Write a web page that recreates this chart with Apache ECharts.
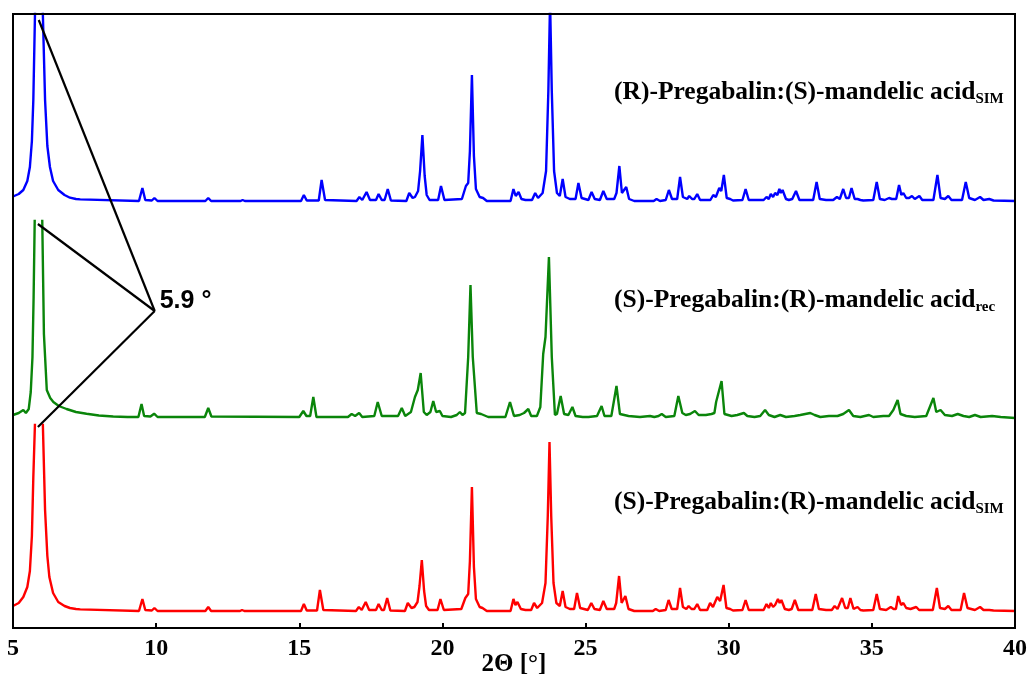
<!DOCTYPE html>
<html><head><meta charset="utf-8">
<script src="https://cdn.jsdelivr.net/npm/echarts@6/dist/echarts.min.js"></script>
<style>html,body{margin:0;padding:0;background:#fff}#c{width:1030px;height:686px}</style>
</head><body><div id="c"></div>
<script>
// 2Theta (deg) vs intensity above each pattern's own baseline (arbitrary units)
const blueData = [[5.0,4.5],[5.2,7],[5.36,11],[5.5,20],[5.59,34],[5.66,60],[5.71,101],[5.77,190],[5.9,400],[6.04,190],[6.12,101],[6.2,55],[6.29,34],[6.4,20],[6.58,11],[6.8,6],[6.99,3.3],[7.2,2],[7.35,1.6],[7.38,0],
[9.4,0],[9.52,13],[9.62,1],[9.85,0.5],[9.94,3],[10.05,0],[11.72,0],[11.82,3],[11.92,0],[12.95,0],[13.02,1],[13.1,0],
[15.06,0],[15.16,6],[15.26,0.5],[15.68,0.5],[15.78,21],[15.9,1],[17.0,0],[17.1,4],[17.2,1],[17.35,9],[17.47,1],[17.68,1],[17.77,7],[17.88,1],[17.98,1],[18.09,12],[18.2,0.5],
[18.74,0],[18.84,8],[18.96,3],[19.04,4],[19.15,10],[19.22,30],[19.3,66],[19.38,25],[19.45,6],[19.55,1],[19.85,1],[19.95,15],[20.07,1],
[20.68,2],[20.82,15],[20.9,18],[20.96,50],[21.03,126],[21.1,45],[21.17,12],[21.3,4],[21.42,3],[21.55,0],
[22.38,0],[22.48,12],[22.56,5],[22.66,9],[22.76,2],[22.9,1],[23.13,1],[23.24,8],[23.34,3],[23.5,8],[23.62,30],[23.7,110],[23.76,200],[23.82,110],[23.9,30],[24.0,8],[24.1,5],[24.2,22],[24.3,4],[24.45,2],[24.65,2],[24.75,18],[24.86,3],[25.1,1],[25.21,9],[25.32,2],[25.5,1],[25.62,10],[25.74,2],[26.0,2],[26.08,8],[26.18,35],[26.27,8],[26.33,8],[26.42,14],[26.52,2],[26.7,0],
[27.38,0],[27.48,2],[27.6,0],[27.8,1],[27.91,11],[28.02,2],[28.2,2],[28.3,24],[28.4,4],[28.55,2],[28.62,5],[28.72,2],[28.8,2],[28.9,7],[29.0,1],[29.36,1],[29.46,6],[29.55,4],[29.67,13],[29.74,10],[29.83,26],[29.93,3],[30.05,2],[30.15,0.5],[30.48,1],[30.59,12],[30.7,1],
[31.22,1],[31.32,4],[31.4,2],[31.47,7],[31.55,4],[31.62,8],[31.7,6],[31.77,12],[31.82,8],[31.88,11],[32.0,2],[32.1,1],[32.22,2],[32.35,10],[32.47,1],[32.95,1],[33.07,19],[33.18,2],[33.4,1],[33.65,1],[33.78,4],[33.88,2],[34.0,12],[34.1,3],[34.2,3],[34.29,13],[34.4,2],[34.5,2],[34.6,1],[34.7,0.5],[35.05,1],[35.17,19],[35.28,2],[35.45,1],[35.6,3],[35.7,2],[35.85,2],[35.95,16],[36.03,6],[36.1,8],[36.2,3],[36.3,3],[36.4,5],[36.5,2],[36.66,5],[36.76,1],[37.15,1],[37.29,26],[37.4,3],[37.55,2],[37.67,5],[37.78,1],[38.15,1],[38.28,19],[38.4,3],[38.6,1],[38.78,4],[38.9,1],[39.1,2],[39.25,0.5],[40,0]];

const greenData = [[5.0,2],[5.2,4],[5.36,7],[5.45,4],[5.55,8],[5.62,25],[5.68,60],[5.72,120],[5.76,200],[5.89,400],[6.02,200],[6.08,83],[6.18,27],[6.3,19],[6.41,15],[6.6,11],[6.87,8],[7.2,5],[7.57,3.3],[8.0,1.5],[8.5,0.5],[9.0,0],[9.38,0],[9.49,13],[9.58,1],[9.8,0.5],[9.93,3.3],[10.05,0],[11.7,0],[11.82,9],[11.93,0.5],
[15.0,0],[15.14,6],[15.25,1],[15.38,1],[15.49,20],[15.6,0],[16.7,0],[16.83,3],[16.95,1],[17.09,4],[17.2,0],[17.62,1],[17.74,15],[17.88,1],[18.45,1],[18.58,9],[18.7,1],[18.9,5],[19.04,20],[19.14,27],[19.24,44],[19.35,5],[19.45,2],[19.58,5],[19.68,16],[19.78,5],[19.84,6],[19.91,6],[20.0,1],[20.3,0],[20.5,2],[20.61,5],[20.7,2],[20.79,4],[20.9,60],[20.98,132],[21.06,60],[21.2,4],[21.35,3],[21.6,0],
[22.2,0],[22.36,15],[22.5,1],[22.7,2],[22.85,4],[23.0,8],[23.1,1],[23.3,1],[23.42,10],[23.52,63],[23.6,80],[23.72,160],[23.82,60],[23.93,2],[24.0,3],[24.13,21],[24.25,3],[24.4,2],[24.54,10],[24.65,1],[24.9,0],[25.1,0],[25.4,1],[25.56,11],[25.66,1],[25.9,1],[26.08,31],[26.2,3],[26.5,1],[26.9,0],
[27.25,1],[27.4,0],[27.55,1],[27.66,3],[27.8,0],[28.1,1],[28.24,21],[28.38,4],[28.5,2],[28.65,3],[28.82,6],[28.95,2],[29.2,2],[29.4,3],[29.5,4],[29.56,15],[29.75,36],[29.85,3],[30.1,1],[30.3,2],[30.53,4],[30.65,1],[30.9,0],[31.1,1],[31.27,7],[31.4,2],[31.6,0],[31.8,2],[32.0,0],[32.3,1],[32.5,2],[32.85,4],[33.0,2],[33.2,0],[33.5,1],[33.8,1],[34.0,3],[34.2,7],[34.35,1],[34.6,0],[34.9,2],[35.05,0],[35.4,1],[35.6,1],[35.75,7],[35.9,17],[36.0,3],[36.2,1],[36.5,0],[36.9,1],[37.15,19],[37.25,5],[37.4,7],[37.55,2],[37.8,1],[38.0,3],[38.2,1],[38.4,0],[38.6,2],[38.8,0],[39.2,1],[39.5,0],[40,-1]];

const redData = [[5.0,5],[5.2,8],[5.36,14],[5.5,24],[5.59,40],[5.66,75],[5.71,134],[5.77,190],[5.9,400],[6.04,190],[6.12,101],[6.2,55],[6.27,34],[6.4,18],[6.58,9],[6.8,5],[6.99,3],[7.2,2],[7.35,1.6],[7.38,0],
[9.4,0],[9.52,12],[9.62,1],[9.85,0.5],[9.94,3],[10.05,0],[11.72,0],[11.82,4],[11.92,0],[12.93,0],[13.0,1],[13.08,0],
[15.06,0],[15.16,7],[15.26,0.5],[15.62,0.5],[15.72,21],[15.84,1],[16.98,0],[17.08,4],[17.18,1],[17.32,9],[17.44,1],[17.68,1],[17.77,7],[17.88,1],[17.96,1],[18.07,13],[18.18,0.5],
[18.69,0],[18.79,8],[18.92,3],[19.02,4],[19.13,9],[19.2,25],[19.28,51],[19.36,20],[19.43,5],[19.53,1],[19.83,1],[19.93,12],[20.05,1],
[20.66,2],[20.8,13],[20.9,17],[20.96,50],[21.03,124],[21.1,44],[21.17,12],[21.3,4],[21.4,3],[21.55,0],
[22.38,0],[22.48,12],[22.55,6],[22.62,9],[22.74,2],[22.9,1],[23.1,1],[23.2,8],[23.31,3],[23.48,8],[23.6,28],[23.68,95],[23.74,169],[23.8,95],[23.88,28],[23.98,8],[24.1,5],[24.2,20],[24.3,4],[24.45,2],[24.6,2],[24.7,18],[24.81,3],[25.08,1],[25.2,8],[25.31,2],[25.5,1],[25.62,10],[25.74,2],[26.0,2],[26.07,8],[26.17,35],[26.26,8],[26.31,8],[26.39,15],[26.5,2],[26.7,0],
[27.35,0],[27.45,2],[27.57,0],[27.8,1],[27.9,11],[28.01,2],[28.2,2],[28.3,23],[28.4,4],[28.52,2],[28.6,5],[28.7,2],[28.8,2],[28.9,7],[29.0,1],[29.25,1],[29.35,8],[29.45,4],[29.6,14],[29.7,10],[29.82,26],[29.92,3],[30.05,2],[30.15,0.5],[30.48,1],[30.59,11],[30.7,1],
[31.22,1],[31.32,7],[31.4,3],[31.47,8],[31.55,4],[31.62,6],[31.72,12],[31.78,8],[31.84,11],[31.96,2],[32.1,1],[32.2,2],[32.31,11],[32.43,1],[32.92,1],[33.04,17],[33.15,2],[33.4,1],[33.6,1],[33.7,5],[33.8,2],[33.96,13],[34.07,3],[34.16,3],[34.25,13],[34.36,2],[34.5,4],[34.6,1],[34.7,0.5],[35.05,1],[35.17,17],[35.28,2],[35.5,1],[35.66,4],[35.76,2],[35.84,2],[35.92,15],[36.02,6],[36.1,8],[36.2,3],[36.35,2],[36.55,4],[36.65,1],[37.13,1],[37.27,23],[37.38,3],[37.55,2],[37.67,5],[37.78,1],[38.1,1],[38.22,18],[38.34,3],[38.6,1],[38.78,4],[38.9,1],[39.1,1],[39.25,0.5],[40,0]];

const seriesData = [blueData, greenData, redData];
const seriesColors = ['#0000ff', '#0a850a', '#ff0000'];
const labelMain = ['(R)-Pregabalin:(S)-mandelic acid', '(S)-Pregabalin:(R)-mandelic acid', '(S)-Pregabalin:(R)-mandelic acid'];
const labelSub = ['SIM', 'rec', 'SIM'];
const xTickLabels = ['5', '10', '15', '20', '25', '30', '35', '40'];
const xName = '2\u0398 [\u00b0]';
const peakLabel = '5.9 \u00b0';
// annotation: vertex (green panel coords) and the tops of the three 5.9 deg peaks
const annoVertex = [9.95, 106];
const annoTargets = [[5.9, 181], [5.87, 193], [5.87, 184]];
const panelRanges = [[-20, 187], [-8, 196], [-17, 186]];

const L = 13, R = 15;
const panels = [[14, 221], [221, 425], [425, 628]];
const chart = echarts.init(document.getElementById('c'));

const grids = [{left: L, right: R, top: 14, bottom: 58, outerBoundsMode: 'none', containLabel: false,
  show: true, borderColor: '#000', borderWidth: 2, backgroundColor: 'transparent', z: 5}];
panels.forEach(p => grids.push({left: L, right: R, top: p[0], height: p[1] - p[0], outerBoundsMode: 'none', containLabel: false}));

const xAxes = [
  {gridIndex: 0, type: 'value', min: 5, max: 40, interval: 5, position: 'bottom',
   axisLine: {show: true, lineStyle: {color: '#000', width: 2}},
   axisTick: {show: true, inside: true, length: 5, lineStyle: {color: '#000', width: 2}},
   axisLabel: {color: '#000', fontFamily: 'Liberation Serif', fontWeight: 'bold', fontSize: 24, margin: 9,
     formatter: v => xTickLabels[Math.round((v - 5) / 5)]},
   splitLine: {show: false},
   name: xName, nameLocation: 'middle', nameGap: 24, nameMoveOverlap: false,
   nameTextStyle: {color: '#000', fontFamily: 'Liberation Serif', fontWeight: 'bold', fontSize: 25}}
];
const yAxes = [
  {gridIndex: 0, type: 'value', min: 0, max: 1, position: 'left', axisLine: {show: true, lineStyle: {color: '#000', width: 2}}, axisTick: {show: false}, axisLabel: {show: false}, splitLine: {show: false}}
];
const series = [];
seriesData.forEach((d, i) => {
  xAxes.push({gridIndex: i + 1, type: 'value', min: 5, max: 40, show: false});
  yAxes.push({gridIndex: i + 1, type: 'value', min: panelRanges[i][0], max: panelRanges[i][1], show: false});
  series.push({type: 'line', xAxisIndex: i + 1, yAxisIndex: i + 1, data: d, showSymbol: false, clip: true,
    lineStyle: {color: seriesColors[i], width: 2.4}, z: 3, silent: true});
});

chart.setOption({
  animation: false, backgroundColor: '#fff',
  grid: grids, xAxis: xAxes, yAxis: yAxes, series: series
});

const labelY = [94, 302, 504];
const graphics = [];
labelMain.forEach((t, i) => {
  graphics.push({type: 'text', left: 614, top: labelY[i] - 15, z: 10,
    style: {text: '{m|' + t + '}{s|' + labelSub[i] + '}', fill: '#000',
      rich: {m: {fontFamily: 'Liberation Serif', fontWeight: 'bold', fontSize: 25.5, lineHeight: 30, verticalAlign: 'bottom'},
             s: {fontFamily: 'Liberation Serif', fontWeight: 'bold', fontSize: 15, lineHeight: 30, verticalAlign: 'bottom', padding: [0, 0, -2, 0]}}}});
});
const v = chart.convertToPixel({gridIndex: 2}, annoVertex);
annoTargets.forEach((t, i) => {
  const p = chart.convertToPixel({gridIndex: i + 1}, t);
  graphics.push({type: 'line', z: 9, shape: {x1: v[0], y1: v[1], x2: p[0], y2: p[1]}, style: {stroke: '#000', lineWidth: 2.2}});
});
graphics.push({type: 'text', x: v[0] + 5, y: v[1] - 10, z: 10,
  style: {text: peakLabel, fill: '#000', font: 'bold 25px "Liberation Sans"', textVerticalAlign: 'middle'}});
chart.setOption({graphic: graphics});
</script></body></html>
